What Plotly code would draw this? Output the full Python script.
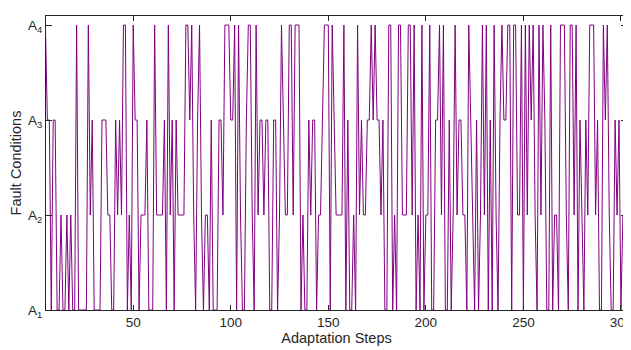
import plotly.graph_objects as go

# Fault condition index (1..4 -> A1..A4) per adaptation step, starting at step 5
first_step = 5
fault = [
    4,3,3,1,3,3,1,1,2,1,1,2,1,2,1,1,4,1,1,1,1,1,4,2,3,1,1,1,1,
    3,3,3,2,2,1,1,3,2,3,2,4,4,1,2,1,4,3,3,1,2,2,2,3,1,1,1,4,2,2,
    2,2,3,1,4,2,3,1,3,2,2,2,2,4,4,3,4,2,1,3,4,2,1,2,2,1,3,1,1,1,3,
    3,2,4,4,4,3,3,4,1,4,2,1,1,3,4,4,2,1,4,2,3,3,2,3,3,1,1,3,3,1,2,
    4,3,2,2,4,4,2,4,4,4,1,2,1,1,3,2,3,3,1,2,2,3,4,4,4,1,4,3,2,2,2,
    2,4,1,3,1,1,2,1,4,2,3,2,2,3,3,4,3,4,3,3,2,3,1,1,4,4,1,2,1,4,
    4,2,2,2,4,4,2,4,1,2,1,4,1,2,2,4,1,1,3,3,4,2,4,1,1,3,1,2,4,2,3,
    3,2,2,1,4,3,2,1,3,1,2,4,2,4,1,3,1,4,2,1,3,4,3,3,4,4,1,4,4,2,2,
    4,1,4,2,4,3,4,2,1,4,2,4,3,1,1,4,1,2,2,1,4,4,4,2,1,4,4,2,4,1,3,
    2,1,3,2,4,4,4,2,3,1,1,4,3,4,2,1,1,3,2,3,1,2,2,3,
]
steps = list(range(first_step, first_step + len(fault)))

x_ticks = [50, 100, 150, 200, 250, 300]
y_ticks = [1, 2, 3, 4]
y_labels = ["A<sub>1</sub>", "A<sub>2</sub>", "A<sub>3</sub>", "A<sub>4</sub>"]

fig = go.Figure()
fig.add_trace(go.Scatter(
    x=steps, y=fault, mode="lines",
    line=dict(color="#800080", width=1),
    showlegend=False,
))

axis_color = "#262626"
# page body has an 8px margin, so the figure is sized/offset to compensate
fig.update_layout(
    width=623, height=342,
    margin=dict(l=38, r=4, t=8, b=40),
    paper_bgcolor="white", plot_bgcolor="white",
    font=dict(family="Liberation Sans, Arial, sans-serif", size=13, color=axis_color),
)
fig.update_xaxes(
    range=[5.3, 303.1], tickvals=x_ticks,
    ticks="inside", ticklen=5, tickcolor=axis_color,
    showline=True, linecolor=axis_color, linewidth=1, mirror="ticks",
    showgrid=False, zeroline=False, automargin=False,
    ticklabeloverflow="allow",
    title=dict(text="Adaptation Steps", font=dict(size=14.5), standoff=1),
    tickfont=dict(size=13.5),
)
fig.update_yaxes(
    range=[1, 4.095], tickvals=y_ticks, ticktext=y_labels,
    ticks="inside", ticklen=6, tickcolor=axis_color,
    showline=True, linecolor=axis_color, linewidth=1, mirror="ticks",
    showgrid=False, zeroline=False, automargin=False,
    title=dict(text="Fault Conditions", font=dict(size=14.5), standoff=6),
    tickfont=dict(size=13.5),
)

fig.write_html("out.html")
